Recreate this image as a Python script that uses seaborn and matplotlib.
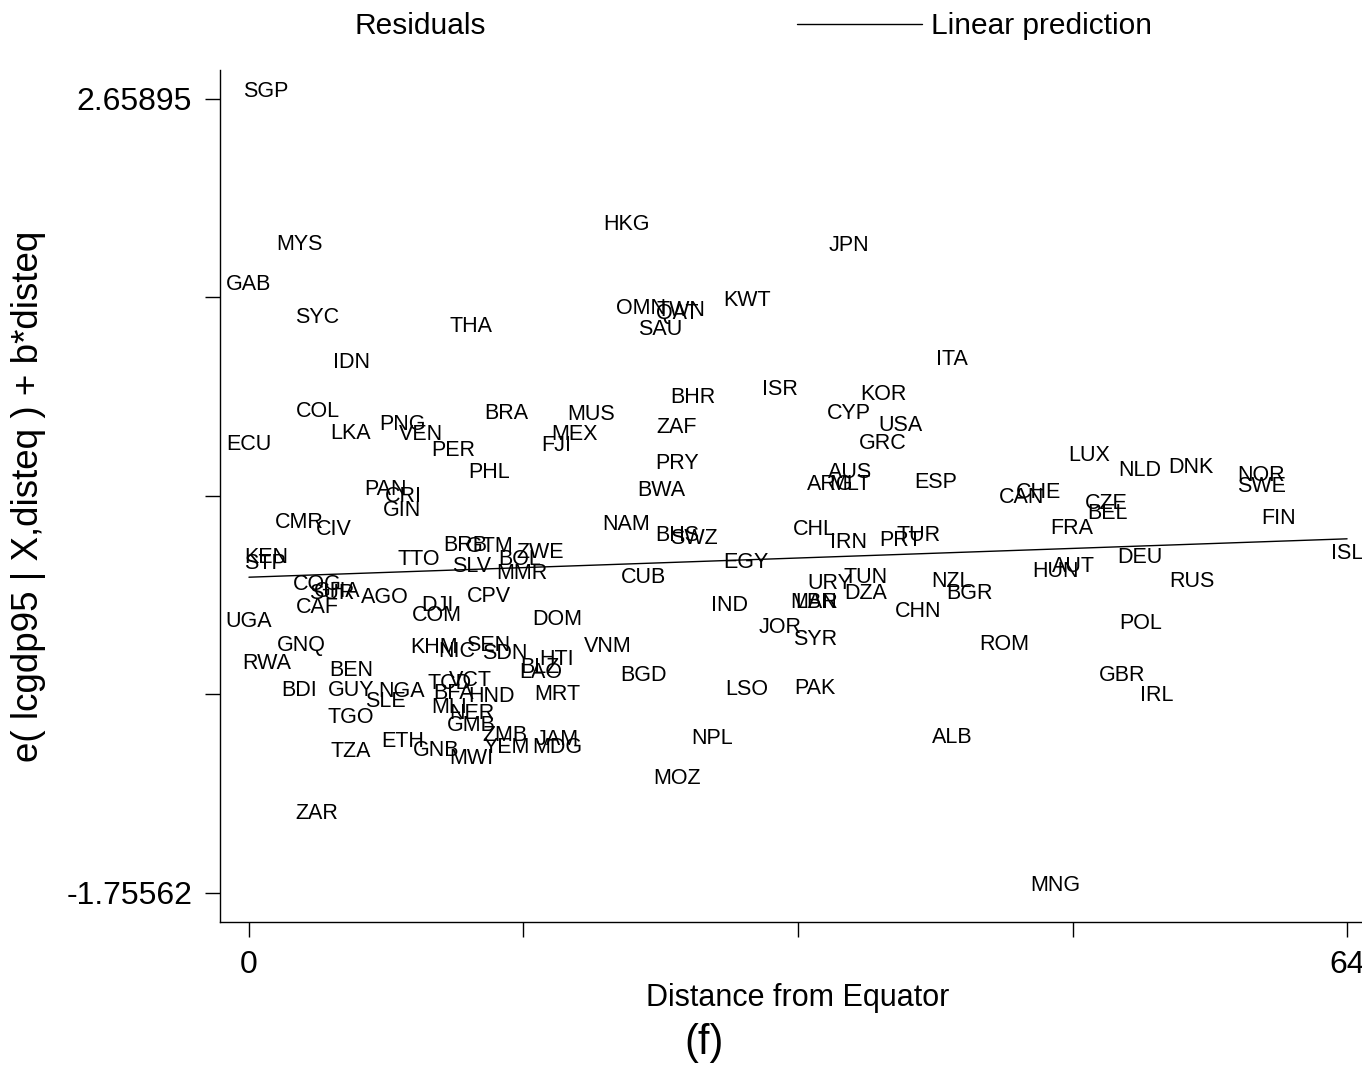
import numpy as np
import pandas as pd
import seaborn as sns
from matplotlib import pyplot as plt
from matplotlib.lines import Line2D

# country codes, distance from equator, component-plus-residual
codes = ["SGP", "MYS", "GAB", "SYC", "THA", "HKG", "JPN", "OMN", "TWN", "QAT",
         "SAU", "KWT", "IDN", "ITA", "COL", "LKA", "PNG", "VEN", "ECU", "PER",
         "BRA", "MUS", "MEX", "FJI", "PHL", "PAN", "CRI", "GIN", "CMR", "CIV",
         "NAM", "ISR", "BHR", "KOR", "CYP", "USA", "ZAF", "GRC", "PRY", "AUS",
         "ARG", "MLT", "ESP", "BWA", "CHL", "LUX", "NLD", "DNK", "NOR", "SWE",
         "CAN", "CHE", "CZE", "BEL", "FRA", "FIN", "KEN", "STP", "UGA", "GNQ",
         "RWA", "BEN", "KHM", "NIC", "SEN", "SDN", "HTI", "DOM", "TTO", "BRB",
         "GTM", "ZWE", "BOL", "SLV", "MMR", "COG", "SUR", "GHA", "CAF", "AGO",
         "DJI", "COM", "CPV", "CUB", "BHS", "SWZ", "EGY", "IRN", "PRT", "TUR",
         "URY", "TUN", "DZA", "MAR", "LBN", "IND", "JOR", "SYR", "NZL", "BGR",
         "CHN", "VNM", "ROM", "HUN", "AUT", "DEU", "ISL", "RUS", "POL", "GBR",
         "IRL", "BDI", "GUY", "NGA", "SLE", "TGO", "TZA", "ETH", "ZAR", "MRT",
         "LAO", "BLZ", "TCD", "VCT", "BFA", "HND", "MLI", "NER", "GMB", "ZMB",
         "YEM", "JAM", "MDG", "MWI", "GNB", "BGD", "LSO", "PAK", "NPL", "MOZ",
         "ALB", "MNG"]

disteq = [0.99, 2.97, 0.0, 3.96, 12.94, 21.98, 34.97, 22.85, 25.18, 24.95,
          23.96, 29.03, 5.95, 40.98, 4.02, 5.95, 8.92, 10.03, 0.0, 11.89,
          14.98, 19.93, 19.00, 17.89, 13.99, 7.93, 8.98, 8.92, 2.91, 4.95,
          21.98, 30.95, 25.88, 36.95, 34.97, 38.00, 24.95, 36.95, 24.95, 35.03,
          33.87, 35.03, 40.04, 24.01, 32.93, 48.96, 51.94, 54.91, 58.99, 58.99,
          45.00, 45.99, 49.95, 50.01, 47.97, 59.98, 0.99, 0.93, 0.0, 3.03,
          1.05, 5.95, 10.78, 12.12, 13.93, 14.92, 17.95, 17.95, 9.91, 12.59,
          14.05, 16.96, 15.80, 13.00, 15.91, 3.96, 4.84, 5.13, 3.96, 7.93,
          10.96, 10.96, 13.99, 22.97, 24.95, 25.94, 28.97, 34.97, 38.00, 39.00,
          33.87, 35.96, 35.96, 32.93, 33.05, 27.98, 30.95, 32.99, 40.92, 41.97,
          39.00, 20.93, 44.01, 46.98, 48.03, 51.94, 64.0, 54.97, 51.99, 50.89,
          52.93, 2.91, 5.95, 8.92, 7.93, 5.95, 5.95, 8.98, 3.96, 17.95,
          17.02, 16.96, 11.72, 12.88, 11.95, 14.11, 11.66, 13.00, 12.94, 14.92,
          15.04, 17.95, 17.95, 12.94, 10.90, 22.97, 29.03, 32.99, 26.99, 24.95,
          40.98, 46.98]

resid = [2.65895, 1.805, 1.583, 1.400, 1.350, 1.917, 1.800, 1.450, 1.439, 1.422,
         1.333, 1.494, 1.149, 1.166, 0.877, 0.755, 0.805, 0.749, 0.693, 0.660,
         0.866, 0.860, 0.749, 0.688, 0.538, 0.443, 0.404, 0.327, 0.260, 0.221,
         0.249, 0.999, 0.955, 0.971, 0.866, 0.799, 0.788, 0.699, 0.588, 0.538,
         0.471, 0.471, 0.482, 0.438, 0.221, 0.632, 0.549, 0.566, 0.521, 0.460,
         0.399, 0.427, 0.365, 0.310, 0.226, 0.282, 0.065, 0.032, -0.291, -0.424,
         -0.524, -0.563, -0.435, -0.458, -0.424, -0.469, -0.502, -0.280, 0.054, 0.132,
         0.126, 0.093, 0.054, 0.015, -0.024, -0.085, -0.135, -0.124, -0.213, -0.157,
         -0.202, -0.257, -0.152, -0.046, 0.188, 0.171, 0.037, 0.149, 0.160, 0.188,
         -0.079, -0.046, -0.135, -0.185, -0.185, -0.202, -0.324, -0.391, -0.068, -0.135,
         -0.235, -0.430, -0.418, -0.013, 0.015, 0.065, 0.087, -0.068, -0.302, -0.591,
         -0.702, -0.674, -0.674, -0.680, -0.735, -0.824, -1.013, -0.958, -1.358, -0.697,
         -0.574, -0.546, -0.635, -0.619, -0.691, -0.708, -0.769, -0.802, -0.869, -0.924,
         -0.991, -0.947, -0.991, -1.052, -1.008, -0.591, -0.669, -0.663, -0.941, -1.164,
         -0.936, -1.75562]

df = pd.DataFrame({"code": codes, "disteq": disteq, "resid": resid})

sns.set_style("ticks")
plt.rcParams['font.family'] = ['Liberation Sans', 'DejaVu Sans']
for k in ["text.color", "axes.labelcolor", "xtick.color", "ytick.color", "axes.edgecolor"]:
    plt.rcParams[k] = "black"

fig = plt.figure(figsize=(13.62, 10.68), dpi=100)
ax = fig.add_axes([0.1615, 0.1367, 0.8385, 0.7978])

sns.regplot(data=df, x="disteq", y="resid", scatter=False, ci=None,
            color="black", line_kws={"lw": 1}, ax=ax)

for c, xv, yv in zip(df.code, df.disteq, df.resid):
    ax.annotate(c, (xv, yv), xytext=(0, 1.6), textcoords="offset points",
                ha="center", va="baseline", fontsize=15.5, color="black")

ax.set_xlim(-1.69, 64.87)
ax.set_ylim(-1.917, 2.820)
sns.despine(ax=ax)
ax.spines["left"].set_linewidth(1)
ax.spines["bottom"].set_linewidth(1)

ymin, ymax = min(resid), max(resid)
ax.set_yticks(np.linspace(ymin, ymax, 5))
ax.set_yticklabels(["-1.75562", "", "", "", "2.65895"])
ax.set_xticks([0, 16, 32, 48, 64])
ax.set_xticklabels(["0", "", "", "", "64"])
ax.tick_params(length=11, width=1, labelsize=23, pad=9)

ax.set_xlabel("Distance from Equator", fontsize=22)
ax.set_ylabel("e( lcgdp95 | X,disteq ) + b*disteq", fontsize=26.5)
ax.xaxis.set_label_coords(0.506, -0.0715)
ax.yaxis.set_label_coords(-0.152, 0.5)

handles = [Line2D([], [], linestyle="none"),
           Line2D([], [], color="black", lw=1)]
fig.legend(handles, ["Residuals", "Linear prediction"], ncol=2,
           loc="upper left", bbox_to_anchor=(220 / 1362, 1 - 12 / 1068),
           frameon=False, fontsize=21.5, handlelength=4.18, handletextpad=0.33,
           columnspacing=10.4, borderpad=0, borderaxespad=0)

fig.text(704 / 1362, 1 - 1043 / 1068, "(f)", fontsize=30, ha="center", va="center")

fig.savefig("out.png", dpi=100)
